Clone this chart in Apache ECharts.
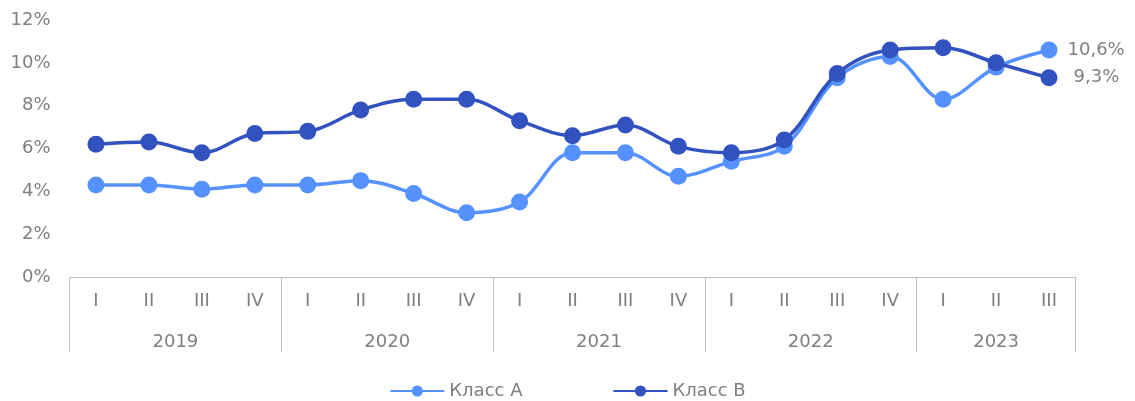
<!DOCTYPE html>
<html>
<head>
<meta charset="utf-8">
<script src="https://cdn.jsdelivr.net/npm/echarts@6/dist/echarts.min.js"></script>
<style>
  html, body { margin: 0; padding: 0; background: #fff; }
  #main { width: 1135px; height: 401px; }
</style>
</head>
<body>
<div id="main"></div>
<script>
var quarters = ['I', 'II', 'III', 'IV', 'I', 'II', 'III', 'IV', 'I', 'II', 'III', 'IV', 'I', 'II', 'III', 'IV', 'I', 'II', 'III'];
var years = ['2019', '2020', '2021', '2022', '2023'];
var yearSpans = [4, 4, 4, 4, 3];
var classA = [4.3, 4.3, 4.1, 4.3, 4.3, 4.5, 3.9, 3.0, 3.5, 5.8, 5.8, 4.7, 5.4, 6.1, 9.3, 10.3, 8.3, 9.8, 10.6];
var classB = [6.2, 6.3, 5.8, 6.7, 6.8, 7.8, 8.3, 8.3, 7.3, 6.6, 7.1, 6.1, 5.8, 6.4, 9.5, 10.6, 10.7, 10.0, 9.3];
var yTicks = [0, 2, 4, 6, 8, 10, 12];

// group boundaries and year label centres, from the spans
var boundaries = [];
var centres = {};
var pos = 0;
yearSpans.forEach(function (s, i) {
    boundaries.push(pos);
    centres[(pos + s / 2).toFixed(1)] = years[i];
    pos += s;
});

var chart = echarts.init(document.getElementById('main'));
var font = 'DejaVu Sans, Verdana, sans-serif';
var grey = '#7f7f7f';
var lineGrey = '#bfbfbf';
var fs = 18;
var last = quarters.length - 1;

function endLabel(p) {
    if (p.dataIndex !== last) return '';
    return String(p.value.toFixed(1)).replace('.', ',') + '%';
}

var option = {
    animation: false,
    textStyle: { fontFamily: font },
    color: ['#5692FF', '#3152BF'],
    grid: { left: 69.5, right: 59.5, top: 20, bottom: 124 },
    legend: {
        top: 377,
        left: 'center',
        itemWidth: 54,
        itemHeight: 14,
        itemGap: 90,
        textStyle: { color: grey, fontSize: fs, fontFamily: font },
        data: ['Класс А', 'Класс В']
    },
    xAxis: [
        {
            type: 'category',
            data: quarters,
            boundaryGap: true,
            axisLine: { show: true, lineStyle: { color: lineGrey, width: 1 } },
            axisTick: {
                show: true,
                length: 75,
                lineStyle: { color: lineGrey },
                interval: function (idx) { return boundaries.indexOf(idx) >= 0; }
            },
            axisLabel: { color: grey, fontSize: fs, margin: 15, interval: 0, fontFamily: font },
            splitLine: { show: false }
        },
        {
            type: 'value',
            position: 'bottom',
            min: 0,
            max: quarters.length,
            interval: 0.5,
            axisLine: { show: false },
            axisTick: { show: false },
            splitLine: { show: false },
            axisLabel: {
                color: grey,
                fontSize: fs,
                margin: 56,
                fontFamily: font,
                formatter: function (v) { return centres[v.toFixed(1)] || ''; }
            }
        }
    ],
    yAxis: {
        type: 'value',
        min: yTicks[0],
        max: yTicks[yTicks.length - 1],
        interval: 2,
        axisLine: { show: false },
        axisTick: { show: false },
        splitLine: { show: false },
        axisLabel: { color: grey, fontSize: fs, margin: 19, fontFamily: font, formatter: '{value}%' }
    },
    series: [
        {
            name: 'Класс А',
            type: 'line',
            data: classA,
            smooth: 0.35,
            symbol: 'circle',
            symbolSize: 17,
            lineStyle: { width: 3.5 },
            label: {
                show: true, position: 'right', distance: 10,
                color: grey, fontSize: fs, fontFamily: font, formatter: endLabel
            },
            z: 2
        },
        {
            name: 'Класс В',
            type: 'line',
            data: classB,
            smooth: 0.35,
            symbol: 'circle',
            symbolSize: 17,
            lineStyle: { width: 3.5 },
            label: {
                show: true, position: 'right', distance: 16,
                color: grey, fontSize: fs, fontFamily: font, formatter: endLabel
            },
            z: 3
        }
    ]
};

option && chart.setOption(option);
</script>
</body>
</html>
